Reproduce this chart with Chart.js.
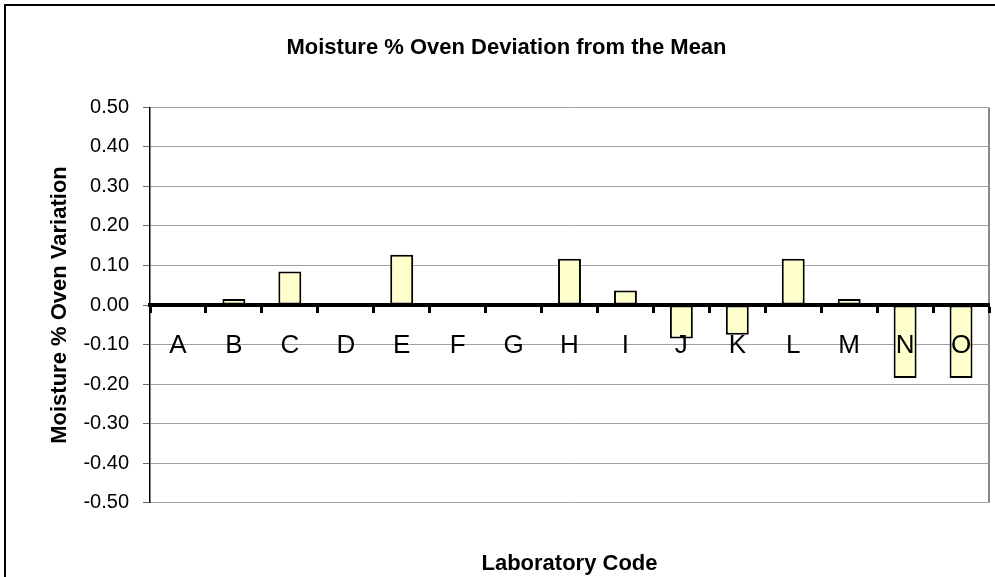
<!DOCTYPE html>
<html>
<head>
<meta charset="utf-8">
<script src="https://cdn.jsdelivr.net/npm/chart.js@4"></script>
<style>
  html, body { margin: 0; padding: 0; background: #fff; }
  #wrap { position: relative; width: 995px; height: 577px; }
</style>
</head>
<body>
<div id="wrap"><canvas id="moistureChart"></canvas></div>
<script>
// data
const labCodes = ["A", "B", "C", "D", "E", "F", "G", "H", "I", "J", "K", "L", "M", "N", "O"];
const deviation = [0, 0.015, 0.085, 0, 0.127, 0, 0, 0.117, 0.037, -0.085, -0.075, 0.117, 0.015, -0.185, -0.185];
const yTicks = [-0.5, -0.4, -0.3, -0.2, -0.1, 0, 0.1, 0.2, 0.3, 0.4, 0.5];

const FONT = "'Liberation Sans', Arial, sans-serif";
Chart.defaults.font.family = FONT;
Chart.defaults.color = "#000";

// white background, outer frame and right edge of the plot area
const frame = {
    id: "frame",
    beforeDraw(chart) {
        const ctx = chart.ctx;
        ctx.save();
        ctx.fillStyle = "#fff";
        ctx.fillRect(0, 0, chart.width, chart.height);
        ctx.strokeStyle = "#000";
        ctx.lineWidth = 2;
        ctx.strokeRect(5, 5, chart.width + 20, chart.height + 20);
        ctx.restore();
    },
    afterDatasetsDraw(chart) {
        const a = chart.chartArea;
        const ctx = chart.ctx;
        ctx.save();
        ctx.strokeStyle = "#888";
        ctx.lineWidth = 2;
        ctx.beginPath();
        ctx.moveTo(a.right, a.top);
        ctx.lineTo(a.right, a.bottom);
        ctx.stroke();
        ctx.restore();
    }
};

const ctx = document.getElementById("moistureChart").getContext("2d");
new Chart(ctx, {
    type: "bar",
    data: {
        labels: labCodes,
        datasets: [{
            label: "Deviation",
            data: deviation,
            xAxisID: "x",
            backgroundColor: "#FFFFCC",
            borderColor: "#000",
            borderWidth: 2,
            borderSkipped: false,
            barPercentage: 0.41,
            categoryPercentage: 1
        }]
    },
    options: {
        responsive: true,
        maintainAspectRatio: false,
        animation: false,
        layout: { padding: { left: 24, right: 6, top: 0, bottom: 0 } },
        plugins: {
            legend: { display: false },
            tooltip: { enabled: false },
            title: {
                display: true,
                text: "Moisture % Oven Deviation from the Mean",
                font: { size: 22, weight: "bold" },
                color: "#000",
                padding: { top: 35, bottom: 46 }
            }
        },
        scales: {
            x: {
                type: "category",
                position: { y: 0 },
                grid: {
                    drawOnChartArea: false,
                    drawTicks: true,
                    tickLength: 6,
                    tickWidth: 3,
                    tickColor: "#000",
                    offset: true,
                    z: 1
                },
                border: { display: true, color: "#000", width: 4, z: 1 },
                ticks: { font: { size: 26 }, color: "#000", padding: 19, maxRotation: 0, autoSkip: false, z: 1 }
            },
            x2: {
                type: "category",
                labels: labCodes,
                position: "bottom",
                grid: { display: false },
                border: { display: false },
                ticks: { display: false },
                title: {
                    display: true,
                    text: "Laboratory Code",
                    font: { size: 22, weight: "bold" },
                    color: "#000",
                    padding: { top: 40, bottom: 0 }
                }
            },
            y: {
                min: -0.5,
                max: 0.5,
                afterBuildTicks(scale) {
                    scale.ticks = yTicks.map(v => ({ value: v }));
                },
                afterFit(scale) {
                    scale.width = 126;
                },
                grid: {
                    color: "#a0a0a0",
                    lineWidth: 1,
                    tickLength: 7,
                    tickColor: "#666"
                },
                border: { display: true, color: "#000", width: 1.5 },
                ticks: {
                    font: { size: 20 },
                    color: "#000",
                    padding: 14,
                    callback: v => Number(v).toFixed(2)
                },
                title: {
                    display: true,
                    text: "Moisture % Oven Variation",
                    font: { size: 22, weight: "bold" },
                    color: "#000",
                    padding: { top: 23, bottom: 0 }
                }
            }
        }
    },
    plugins: [frame]
});
</script>
</body>
</html>
